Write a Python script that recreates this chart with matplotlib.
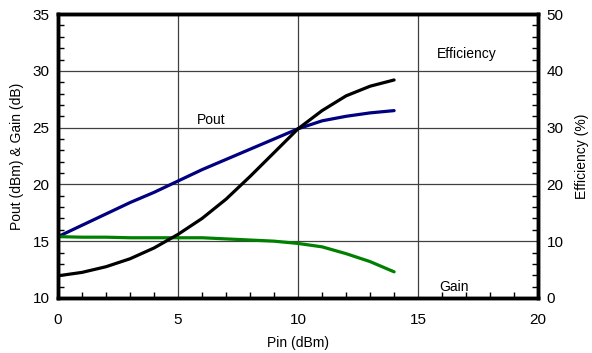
import numpy as np
import matplotlib.pyplot as plt
from matplotlib.ticker import MultipleLocator

plt.rcParams['font.family'] = ['Liberation Sans', 'DejaVu Sans']

# Input power sweep (dBm)
pin = [0, 1, 2, 3, 4, 5, 6, 7, 8, 9, 10, 11, 12, 13, 14]

# Output power (dBm)
pout = [15.4, 16.4, 17.4, 18.4, 19.3, 20.3, 21.3, 22.2, 23.1, 24.0, 24.9, 25.6, 26.0, 26.3, 26.5]

# Gain (dB)
gain = [15.4, 15.35, 15.35, 15.3, 15.3, 15.3, 15.3, 15.2, 15.1, 15.0, 14.8, 14.5, 13.9, 13.2, 12.3]

# Efficiency (%)
eff = [3.9, 4.5, 5.5, 6.9, 8.8, 11.2, 14.0, 17.4, 21.4, 25.6, 29.8, 33.0, 35.6, 37.3, 38.4]

fig = plt.figure(figsize=(5.92, 3.53), dpi=100)
ax = fig.add_axes([0.098, 0.156, 0.811, 0.804])
ax2 = ax.twinx()

ax.plot(pin, pout, color='#000080', lw=2.3, solid_capstyle='round')
ax.plot(pin, gain, color='#008000', lw=2.3, solid_capstyle='round')
ax2.plot(pin, eff, color='black', lw=2.3, solid_capstyle='round')

ax.set_xlim(0, 20)
ax.set_ylim(10, 35)
ax2.set_ylim(0, 50)

ax.xaxis.set_major_locator(MultipleLocator(5))
ax.xaxis.set_minor_locator(MultipleLocator(1))
ax.yaxis.set_major_locator(MultipleLocator(5))
ax.yaxis.set_minor_locator(MultipleLocator(1))
ax2.yaxis.set_major_locator(MultipleLocator(10))
ax2.yaxis.set_minor_locator(MultipleLocator(2))

ax.grid(True, which='major', color='#404040', lw=0.9)
ax.set_axisbelow(True)

for a in (ax, ax2):
    for s in a.spines.values():
        s.set_linewidth(2.5)
    a.tick_params(which='both', direction='in', labelsize=11, width=1)
    a.tick_params(which='major', length=0, pad=6)
    a.tick_params(which='minor', length=4)
ax.tick_params(axis='x', which='major', pad=11)

ax.set_xlabel('Pin (dBm)', fontsize=10, labelpad=6)
ax.set_ylabel('Pout (dBm) & Gain (dB)', fontsize=10, labelpad=6)
ax2.set_ylabel('Efficiency (%)', fontsize=10, labelpad=8)

ax.text(5.8, 25.3, 'Pout', fontsize=10)
ax.text(15.8, 31.1, 'Efficiency', fontsize=10)
ax.text(15.9, 10.6, 'Gain', fontsize=10)

fig.savefig('out.png', dpi=100)
